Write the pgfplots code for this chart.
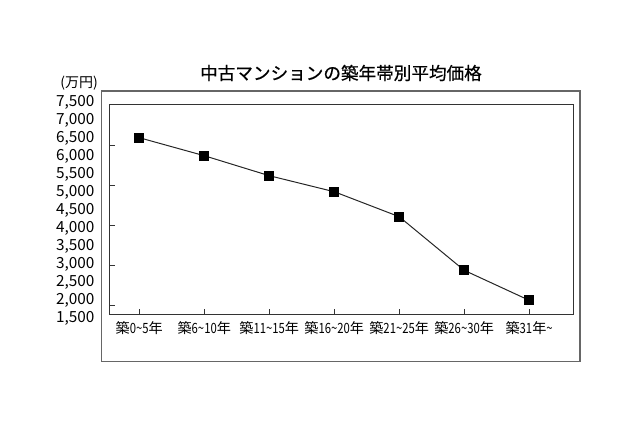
\documentclass[border=0pt]{standalone}
\usepackage{fontspec}
\setmainfont{Noto Sans CJK JP}
\newfontfamily\narrow[FakeStretch=0.8]{Noto Sans CJK JP}
\newfontfamily\titlef[FakeBold=0.6]{Noto Sans CJK JP}
\newcommand{\nr}[1]{{\narrow #1}}
\usepackage{pgfplots}
\pgfplotsset{compat=1.18}
\begin{document}
\begin{tikzpicture}
\useasboundingbox (0pt,0pt) rectangle (480pt,320.25pt);
% outer frame
\draw[draw=black!60, line width=1.1pt] (76.3pt,49pt) rectangle (435pt,252pt);
% title
\node[font=\titlef\fontsize{13.2}{15}\selectfont] at (255.75pt,265.5pt) {中古マンションの築年帯別平均価格};
% unit
\node[font=\fontsize{10.5}{12}\selectfont, anchor=east, inner sep=0pt] at (73.5pt,258pt) {(万円)};
% main axis
\begin{axis}[
  at={(81.98pt,84.53pt)}, anchor=south west,
  scale only axis, width=348pt, height=157.7pt,
  xmin=-0.4615, xmax=6.68,
  ymin=1603, ymax=7444,
  xtick={0,1,2,3,4,5,6},
  xticklabels={築\nr{0\textasciitilde5}年,築\nr{6\textasciitilde10}年,築\nr{11\textasciitilde15}年,築\nr{16\textasciitilde20}年,築\nr{21\textasciitilde25}年,築\nr{26\textasciitilde30}年,築\nr{31}年\nr{\textasciitilde}},
  ytick={1861.1,2972.2,4083.3,5194.4,6305.6},
  yticklabels={},
  xtick pos=bottom, ytick pos=left,
  tick align=inside,
  major tick length=4pt,
  tick style={black!80, line width=0.5pt},
  axis line style={black!80, line width=0.75pt},
  xticklabel style={font=\fontsize{10.6}{13}\selectfont, yshift=-2pt},
]
\addplot[black!85, line width=0.75pt, mark=square*, mark size=3.5pt, mark options={fill=black, draw=black}]
coordinates {(0,6508) (1,6008) (2,5453) (3,5008) (4,4314) (5,2825) (6,1992)};
\end{axis}
% label axis
\begin{axis}[
  at={(71pt,81.75pt)}, anchor=south west,
  scale only axis, width=1pt, height=162pt,
  xmin=0, xmax=1, ymin=1500, ymax=7500,
  xtick=\empty,
  ytick={1500,2000,2500,3000,3500,4000,4500,5000,5500,6000,6500,7000,7500},
  axis line style={draw=none},
  major tick length=0pt,
  yticklabel style={anchor=east, inner sep=0pt, font=\fontsize{11.5}{13}\selectfont},
  /pgf/number format/assume math mode=true,
  /pgf/number format/1000 sep={,},
]
\addplot[draw=none] coordinates {(0,1500)};
\end{axis}
\end{tikzpicture}
\end{document}
